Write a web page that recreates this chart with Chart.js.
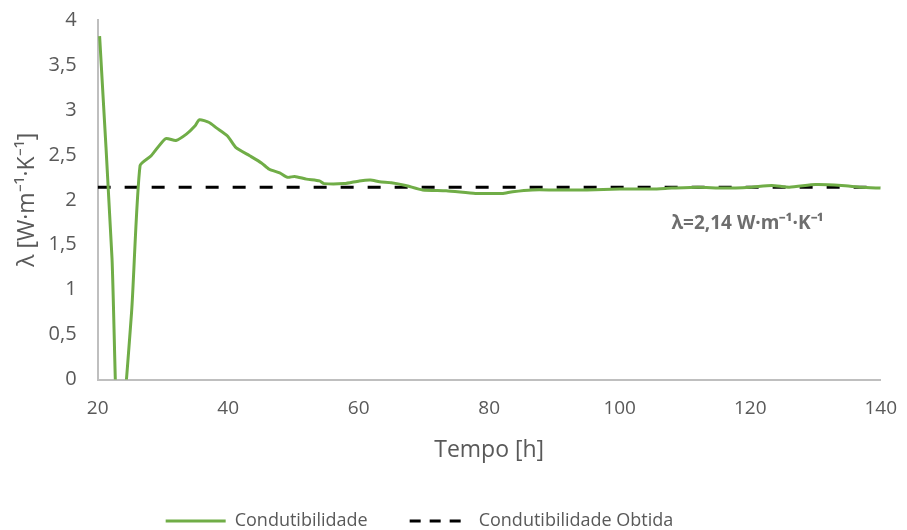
<!DOCTYPE html>
<html lang="pt">
<head>
    <meta charset="UTF-8">
    <title>Condutibilidade</title>
    <script src="https://cdn.jsdelivr.net/npm/chart.js"></script>
    <style>
        body { margin: 0; background: #fff; }
        #wrap { width: 907px; height: 530px; }
    </style>
</head>
<body>
    <div id="wrap"><canvas id="condChart" width="907" height="530"></canvas></div>

    <script>
        // tempo [h] and lambda [W/mK]
        const tempo = [20.3, 22.2, 23.2, 25.2, 26.5, 28.2, 30.4, 32.0, 33.6, 34.9, 35.6, 37.1, 38.2, 39.9,
            41.2, 43.3, 45.1, 46.3, 47.9, 49.1, 50.2, 52, 54.0, 54.7, 57.8, 60.1, 61.8, 63.2, 65, 67.2,
            69.8, 73.4, 77.9, 80, 82, 83.6, 86.6, 90, 95, 100, 105, 108, 112, 116, 120, 123.3, 126,
            130, 134, 137, 140];
        const condutibilidade = [3.82, 1.35, -0.9, 0.75, 2.38, 2.49, 2.68, 2.66, 2.73, 2.82, 2.89, 2.86, 2.80, 2.71,
            2.58, 2.49, 2.41, 2.34, 2.30, 2.25, 2.26, 2.23, 2.21, 2.18, 2.18, 2.21, 2.22, 2.20, 2.19, 2.16,
            2.11, 2.10, 2.07, 2.07, 2.07, 2.09, 2.11, 2.11, 2.11, 2.12, 2.12, 2.13, 2.14, 2.13, 2.14, 2.16, 2.14,
            2.17, 2.16, 2.14, 2.13];
        const obtidaX = [20, 140];
        const obtidaY = [2.14, 2.14];
        const anotacao = 'λ=2,14 W·m⁻¹·K⁻¹';
        const anotacaoPos = [119.6, 1.74];

        const grey = '#595959';
        const font = '"Open Sans", sans-serif';

        // draws the lambda label inside the plot
        const labelPlugin = {
            id: 'labelPlugin',
            afterDatasetsDraw(chart) {
                const ctx = chart.ctx;
                const x = chart.scales.x.getPixelForValue(anotacaoPos[0]);
                const y = chart.scales.y.getPixelForValue(anotacaoPos[1]);
                ctx.save();
                ctx.font = 'bold 19px ' + font;
                ctx.fillStyle = '#6e6e6e';
                ctx.textAlign = 'center';
                ctx.textBaseline = 'middle';
                ctx.fillText(anotacao, x, y);
                ctx.restore();
            }
        };

        // legend in the original sits a bit left of centre
        const legendShift = {
            id: 'legendShift',
            afterLayout(chart) {
                chart.legend.left -= 37;
                chart.legend.right -= 37;
            }
        };

        const ctx = document.getElementById('condChart').getContext('2d');
        new Chart(ctx, {
            type: 'line',
            data: {
                datasets: [{
                    label: 'Condutibilidade',
                    data: tempo.map((t, i) => ({ x: t, y: condutibilidade[i] })),
                    borderColor: '#70ad47',
                    backgroundColor: '#70ad47',
                    borderWidth: 3,
                    pointRadius: 0,
                    tension: 0.2
                }, {
                    label: 'Condutibilidade Obtida',
                    data: obtidaX.map((t, i) => ({ x: t, y: obtidaY[i] })),
                    borderColor: '#000000',
                    backgroundColor: '#000000',
                    borderWidth: 3,
                    borderDash: [13, 14],
                    pointRadius: 0
                }]
            },
            options: {
                responsive: false,
                animation: false,
                layout: { padding: { top: 20, right: 8, left: 14, bottom: -10 } },
                scales: {
                    x: {
                        type: 'linear',
                        min: 20,
                        max: 140,
                        ticks: { stepSize: 20, color: grey, font: { size: 19, family: font }, padding: 10 },
                        grid: { display: false },
                        border: { color: '#bfbfbf', width: 2 },
                        title: {
                            display: true, text: 'Tempo [h]', color: grey,
                            font: { size: 23, family: font }, padding: { top: 6, bottom: 6 }
                        }
                    },
                    y: {
                        min: 0,
                        max: 4,
                        ticks: {
                            stepSize: 0.5, color: grey, font: { size: 20, family: font }, padding: 2,
                            callback: v => v.toString().replace('.', ',')
                        },
                        grid: { display: false, tickLength: 19 },
                        border: { color: '#bfbfbf', width: 2 },
                        title: {
                            display: true, text: 'λ [W·m⁻¹·K⁻¹]', color: grey,
                            font: { size: 23, family: font }, padding: { top: 0, bottom: 5 }
                        }
                    }
                },
                plugins: {
                    legend: {
                        position: 'bottom',
                        labels: {
                            usePointStyle: true,
                            pointStyleWidth: 60,
                            color: grey,
                            font: { size: 18, family: font },
                            padding: 42,
                            generateLabels: chart => chart.data.datasets.map((ds, i) => ({
                                text: ds.label,
                                strokeStyle: ds.borderColor,
                                fillStyle: ds.borderColor,
                                lineWidth: 3,
                                lineDash: ds.borderDash ? [11, 9] : [],
                                pointStyle: 'line',
                                fontColor: grey,
                                datasetIndex: i
                            }))
                        }
                    },
                    tooltip: { enabled: false }
                }
            },
            plugins: [labelPlugin, legendShift]
        });
    </script>
</body>
</html>
